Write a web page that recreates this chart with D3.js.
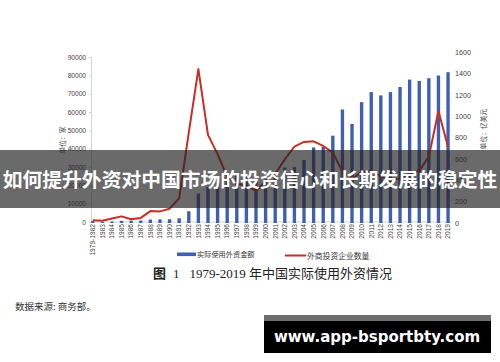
<!DOCTYPE html>
<html>
<head>
<meta charset="utf-8">
<script src="https://cdn.jsdelivr.net/npm/d3@7"></script>
<style>
	body { margin: 0; background: #ffffff; }
	svg { display: block; }
</style>
</head>
<body>
<div id="chart"></div>
<script>
// categories (years)
var years = ['1979-1982', '1983', '1984', '1985', '1986', '1987', '1988', '1989',
	'1990', '1991', '1992', '1993', '1994', '1995', '1996', '1997', '1998', '1999',
	'2000', '2001', '2002', '2003', '2004', '2005', '2006', '2007', '2008', '2009',
	'2010', '2011', '2012', '2013', '2014', '2015', '2016', '2017', '2018', '2019'];

// 实际使用外资金额, 亿美元 (right axis)
var fdiAmount = [18, 9, 14, 20, 22, 23, 32, 34,
	35, 44, 110, 275, 338, 375, 417, 453, 455, 403,
	407, 469, 518, 522, 590, 707, 712, 817, 1062, 927,
	1131, 1225, 1194, 1225, 1273, 1342, 1329, 1355, 1380, 1411];

// 外商投资企业数量, 家 (left axis)
var firmCount = [922, 638, 1856, 3073, 1498, 2233, 5945, 5779,
	7273, 12978, 48764, 83437, 47549, 37011, 24556, 21001, 19799, 16918,
	22347, 26140, 34171, 41081, 43664, 44001, 41473, 37871, 27514, 23435,
	27406, 27712, 24925, 22773, 23778, 26575, 27900, 35652, 60533, 40888];

var leftTicks = [0, 10000, 20000, 30000, 40000, 50000, 60000, 70000, 80000, 90000];
var rightTicks = [0, 200, 400, 600, 800, 1000, 1200, 1400, 1600];

var barColor = '#3f5fb5';
var lineColor = '#c62f25';
var numFont = '"Liberation Sans", Arial, sans-serif';
var cjkFont = '"Noto Sans CJK SC", sans-serif';

var svg = d3.select('#chart')
	.append('svg')
	.attr('width', 500)
	.attr('height', 362);

var x = d3.scaleBand()
	.domain(years)
	.range([88, 452.8])
	.paddingInner(0.65)
	.paddingOuter(0.32);

var yLeft = d3.scaleLinear()
	.domain([0, 90000])
	.range([222, 57]);

var yRight = d3.scaleLinear()
	.domain([0, 1600])
	.range([223, 52]);

// left axis
var leftAxis = svg.append('g')
	.attr('transform', 'translate(91,0)')
	.call(d3.axisLeft(yLeft).tickValues(leftTicks).tickFormat(d3.format('d'))
		.tickSize(2).tickPadding(3));
leftAxis.select('.domain').attr('stroke', '#d4d4d4');
leftAxis.selectAll('line').attr('stroke', '#d4d4d4');
leftAxis.selectAll('text')
	.style('font-family', numFont)
	.style('font-size', '6.6px')
	.attr('fill', '#444');

// right axis (no line)
var rightAxis = svg.append('g')
	.attr('transform', 'translate(452,0)')
	.call(d3.axisRight(yRight).tickValues(rightTicks).tickFormat(d3.format('d'))
		.tickSize(0).tickPadding(3));
rightAxis.select('.domain').remove();
rightAxis.selectAll('text')
	.style('font-family', numFont)
	.style('font-size', '7.2px')
	.attr('fill', '#444');

// bottom axis line
svg.append('line')
	.attr('x1', 91).attr('x2', 452.8)
	.attr('y1', yLeft(0)).attr('y2', yLeft(0))
	.attr('stroke', '#d4d4d4');

// x labels, rotated
svg.append('g')
	.selectAll('text')
	.data(years)
	.enter()
	.append('text')
	.attr('transform', function(d) {
		return 'translate(' + (x(d) + x.bandwidth() / 2 + 2.3) + ',224) rotate(-90)';
	})
	.style('text-anchor', 'end')
	.style('font-family', numFont)
	.style('font-size', '6.6px')
	.attr('fill', '#444')
	.text(function(d) { return d; });

// axis titles
svg.append('text')
	.attr('transform', 'translate(65,140) rotate(-90)')
	.style('text-anchor', 'middle')
	.style('font-family', cjkFont)
	.style('font-size', '6.8px')
	.attr('fill', '#444')
	.text('单位：家');

svg.append('text')
	.attr('transform', 'translate(486,129) rotate(-90)')
	.style('text-anchor', 'middle')
	.style('font-family', cjkFont)
	.style('font-size', '6.8px')
	.attr('fill', '#444')
	.text('单位：亿美元');

// bars
svg.append('g')
	.selectAll('rect')
	.data(fdiAmount)
	.enter()
	.append('rect')
	.attr('x', function(d, i) { return x(years[i]); })
	.attr('y', function(d) { return yRight(d); })
	.attr('width', x.bandwidth())
	.attr('height', function(d) { return yRight(0) - yRight(d); })
	.attr('fill', barColor);

// line
var line = d3.line()
	.x(function(d, i) { return x(years[i]) + x.bandwidth() / 2; })
	.y(function(d) { return yLeft(d); });

svg.append('path')
	.datum(firmCount)
	.attr('d', line)
	.attr('fill', 'none')
	.attr('stroke', lineColor)
	.attr('stroke-width', 2)
	.attr('stroke-linejoin', 'round');

// legend
svg.append('rect')
	.attr('x', 177).attr('y', 252.5)
	.attr('width', 19).attr('height', 3.6)
	.attr('fill', barColor);
svg.append('text')
	.attr('x', 197).attr('y', 257.2)
	.style('font-family', cjkFont)
	.style('font-size', '7.2px')
	.attr('fill', '#333')
	.text('实际使用外资金额');

svg.append('line')
	.attr('x1', 285).attr('x2', 306)
	.attr('y1', 255.5).attr('y2', 255.5)
	.attr('stroke', lineColor)
	.attr('stroke-width', 2);
svg.append('text')
	.attr('x', 307).attr('y', 258.5)
	.style('font-family', cjkFont)
	.style('font-size', '7.8px')
	.attr('fill', '#333')
	.text('外商投资企业数量');

// caption
var caption = svg.append('text')
	.attr('y', 277.5)
	.style('font-size', '13px')
	.attr('fill', '#222');
caption.append('tspan').attr('x', 153).style('font-family', cjkFont).style('font-weight', 'bold').text('图');
caption.append('tspan').attr('x', 173).style('font-family', '"Liberation Serif", serif').text('1');
caption.append('tspan').attr('x', 189.5).style('font-family', '"Liberation Serif", serif').text('1979-2019');
caption.append('tspan').attr('x', 249).style('font-family', cjkFont).text('年中国实际使用外资情况');

svg.append('text')
	.attr('x', 15).attr('y', 310)
	.style('font-family', cjkFont)
	.style('font-size', '9.5px')
	.attr('fill', '#333')
	.text('数据来源: 商务部。');

// overlay banner
svg.append('rect')
	.attr('x', 0).attr('y', 150)
	.attr('width', 500).attr('height', 58)
	.attr('fill', 'rgba(35,35,35,0.68)');
svg.append('text')
	.attr('x', 250).attr('y', 186.5)
	.style('text-anchor', 'middle')
	.style('font-family', cjkFont)
	.style('font-weight', 'bold')
	.style('font-size', '19.8px')
	.attr('fill', '#ffffff')
	.text('如何提升外资对中国市场的投资信心和长期发展的稳定性');

// watermark
svg.append('rect')
	.attr('x', 264).attr('y', 315)
	.attr('width', 227).attr('height', 38)
	.attr('fill', '#000000');
svg.append('rect')
	.attr('x', 264).attr('y', 315)
	.attr('width', 227).attr('height', 6)
	.attr('fill', '#6e6e6e');
svg.append('text')
	.attr('x', 377).attr('y', 342)
	.style('text-anchor', 'middle')
	.style('font-family', '"DejaVu Sans", sans-serif')
	.style('font-weight', 'bold')
	.style('font-size', '15px')
	.attr('fill', '#ffffff')
	.text('www.app-bsportbty.com');
</script>
</body>
</html>
